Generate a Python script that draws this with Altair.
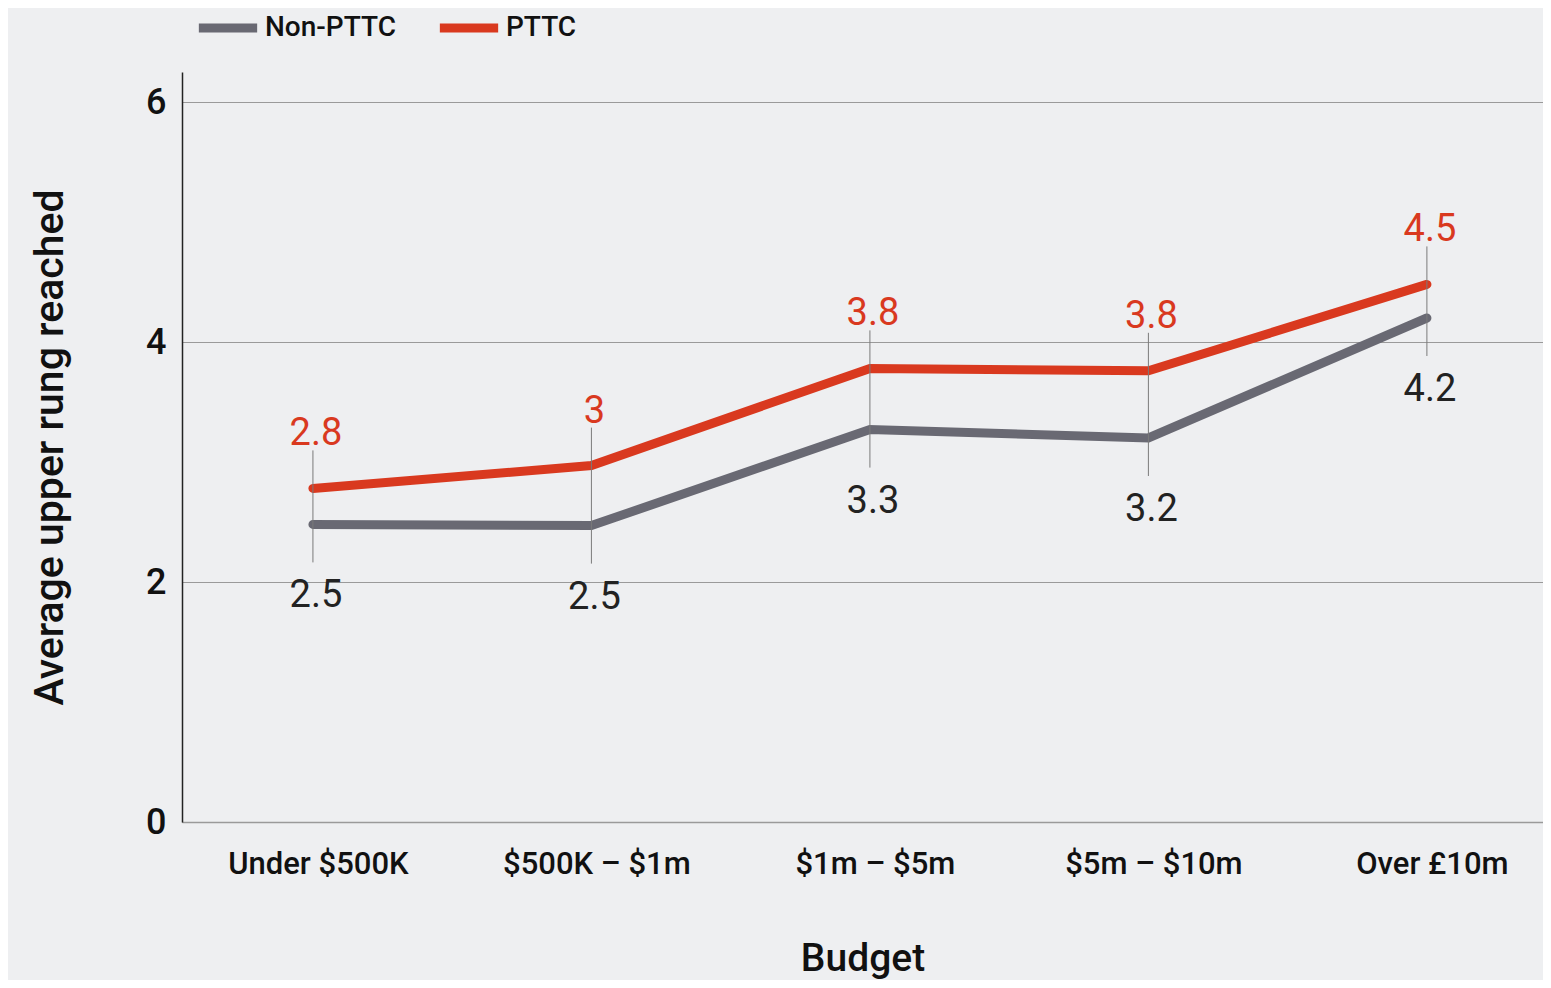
import altair as alt
import pandas as pd

categories = ["Under $500K", "$500K – $1m", "$1m – $5m", "$5m – $10m", "Over £10m"]
pttc = [2.78, 2.97, 3.78, 3.76, 4.48]
non_pttc = [2.48, 2.47, 3.27, 3.20, 4.20]
pttc_labels = ["2.8", "3", "3.8", "3.8", "4.5"]
non_pttc_labels = ["2.5", "2.5", "3.3", "3.2", "4.2"]
series = ["Non-PTTC", "PTTC"]
colors = ["#696973", "#d9391f"]
y_ticks = [0, 2, 4, 6]

FONT = "Roboto"
BG = "#eeeff1"

long_df = pd.DataFrame(
    [{"Budget": c, "Series": "Non-PTTC", "Value": v} for c, v in zip(categories, non_pttc)]
    + [{"Budget": c, "Series": "PTTC", "Value": v} for c, v in zip(categories, pttc)]
)
wide_df = pd.DataFrame({
    "Budget": categories,
    "PTTC": pttc,
    "NonPTTC": non_pttc,
    "PTTC_label": pttc_labels,
    "Non_label": non_pttc_labels,
})

x_scale = alt.Scale(type="point", padding=0.4435, align=0.53)
x_enc = alt.X(
    "Budget:N",
    sort=categories,
    scale=x_scale,
    axis=alt.Axis(
        title="Budget",
        titleFont=FONT,
        titleFontSize=39,
        titleFontWeight=500,
        titleColor="#111111",
        titlePadding=60,
        labelFont=FONT,
        labelFontSize=31,
        labelFontWeight=500,
        labelColor="#111111",
        labelPadding=27,
        labelOffset=5,
        labelLimit=400,
        labelAngle=0,
        ticks=False,
        domainColor="#9a9a9a",
        domainWidth=1.5,
        grid=False,
    ),
)
y_scale = alt.Scale(domain=[0, 6.25], nice=False)

lines = alt.Chart(long_df).mark_line(strokeWidth=9, strokeCap="round", strokeJoin="miter").encode(
    x=x_enc,
    y=alt.Y(
        "Value:Q",
        scale=y_scale,
        axis=alt.Axis(
            title="Average upper rung reached",
            titleFont=FONT,
            titleFontSize=41,
            titleFontWeight=500,
            titleColor="#111111",
            titlePadding=74,
            labelFont=FONT,
            labelFontSize=36,
            labelFontWeight=500,
            labelColor="#111111",
            labelPadding=16,
            values=y_ticks,
            format="d",
            ticks=False,
            domainColor="#222222",
            domainWidth=1.5,
            grid=True,
            gridColor="#9a9a9a",
            gridWidth=1.2,
        ),
    ),
    color=alt.Color(
        "Series:N",
        scale=alt.Scale(domain=series, range=colors),
        legend=alt.Legend(
            title=None,
            orient="none",
            direction="horizontal",
            legendX=12,
            legendY=-78,
            symbolType="stroke",
            symbolSize=3400,
            symbolStrokeWidth=9,
            labelFont=FONT,
            labelFontSize=28,
            labelFontWeight=500,
            labelColor="#111111",
            labelOffset=3,
            columnPadding=25,
            padding=0,
        ),
    ),
)

rules = alt.Chart(wide_df).mark_rule(color="#7a7a7a", strokeWidth=1, yOffset=-38, y2Offset=38).encode(
    x=alt.X("Budget:N", sort=categories, scale=x_scale),
    y=alt.Y("PTTC:Q", scale=y_scale),
    y2="NonPTTC:Q",
)

red_text = alt.Chart(wide_df).mark_text(
    font=FONT, fontSize=38, color=colors[1], dy=-54, dx=3, baseline="middle", align="center"
).encode(
    x=alt.X("Budget:N", sort=categories, scale=x_scale),
    y=alt.Y("PTTC:Q", scale=y_scale),
    text="PTTC_label:N",
)

gray_text = alt.Chart(wide_df).mark_text(
    font=FONT, fontSize=38, color="#222222", dy=72, dx=3, baseline="middle", align="center"
).encode(
    x=alt.X("Budget:N", sort=categories, scale=x_scale),
    y=alt.Y("NonPTTC:Q", scale=y_scale),
    text="Non_label:N",
)

chart = alt.layer(lines, rules, red_text, gray_text).properties(
    width=1361,
    height=750,
    background=BG,
    autosize=alt.AutoSizeParams(type="none"),
    padding={"left": 174, "top": 64, "right": 0, "bottom": 158},
).configure_view(stroke="transparent")

chart.save("out.html", embed_options={"renderer": "svg", "actions": False})
